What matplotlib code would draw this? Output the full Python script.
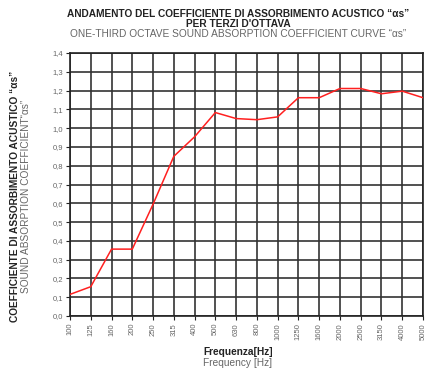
import matplotlib
matplotlib.use("Agg")
import matplotlib.pyplot as plt
import numpy as np

plt.rcParams['font.family'] = ['Liberation Sans', 'DejaVu Sans']

FREQS = ["100", "125", "160", "200", "250", "315", "400", "500", "630", "800",
         "1000", "1250", "1600", "2000", "2500", "3150", "4000", "5000"]
ALPHA_S = [0.115, 0.156, 0.356, 0.356, 0.595, 0.85, 0.954, 1.083, 1.051, 1.045,
           1.06, 1.162, 1.162, 1.211, 1.211, 1.183, 1.197, 1.162]
YTICKS = [0.0, 0.1, 0.2, 0.3, 0.4, 0.5, 0.6, 0.7, 0.8, 0.9, 1.0, 1.1, 1.2, 1.3, 1.4]

GRID = "#333333"
GRAY = "#666666"

fig = plt.figure(figsize=(4.34, 3.86), dpi=100)
ax = fig.add_axes([70 / 434, 1 - 316 / 386, 353 / 434, 263 / 386])

x = np.arange(len(FREQS))
ax.plot(x, ALPHA_S, color="#ff2020", lw=1.1, zorder=3)

ax.set_xlim(0, len(FREQS) - 1)
ax.set_ylim(0, 1.4)
ax.set_xticks(x)
ax.set_xticklabels(FREQS, rotation=90, fontsize=5.5, color=GRAY)
ax.set_yticks(YTICKS)
ax.set_yticklabels([f"{v:.1f}".replace(".", ",") for v in YTICKS], fontsize=5.5, color=GRAY)
ax.grid(True, color=GRID, lw=1.2)
for s in ax.spines.values():
    s.set_color("#222222"); s.set_linewidth(1.2)
ax.tick_params(length=3, width=0.8, color="#222222", pad=2)

fig.text(238 / 434, 1 - 14 / 386, "ANDAMENTO DEL COEFFICIENTE DI ASSORBIMENTO ACUSTICO \u201c\u03b1s\u201d",
         ha="center", va="center", fontsize=7.3, fontweight="bold", color="#222222")
fig.text(238 / 434, 1 - 24 / 386, "PER TERZI D'OTTAVA",
         ha="center", va="center", fontsize=7.3, fontweight="bold", color="#222222")
fig.text(238 / 434, 1 - 34 / 386, "ONE-THIRD OCTAVE SOUND ABSORPTION COEFFICIENT CURVE \u201c\u03b1s\u201d",
         ha="center", va="center", fontsize=7.3, color=GRAY)

fig.text(15 / 434, 1 - 196 / 386, "COEFFICIENTE DI ASSORBIMENTO ACUSTICO \u201c\u03b1s\u201d",
         ha="center", va="center", rotation=90, fontsize=7.3, fontweight="bold", color="#222222")
fig.text(26 / 434, 1 - 196 / 386, "SOUND ABSORPTION COEFFICIENT\u201c\u03b1s\u201d",
         ha="center", va="center", rotation=90, fontsize=7.3, color=GRAY)

fig.text(238 / 434, 1 - 352 / 386, "Frequenza[Hz]",
         ha="center", va="center", fontsize=7.3, fontweight="bold", color="#222222")
fig.text(238 / 434, 1 - 363 / 386, "Frequency [Hz]",
         ha="center", va="center", fontsize=7.3, color=GRAY)

fig.savefig("out.png", dpi=100, facecolor="white")
